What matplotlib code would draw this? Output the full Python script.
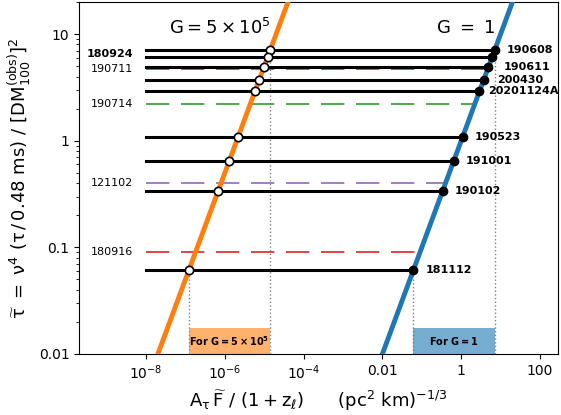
import numpy as np
import matplotlib.pyplot as plt
from matplotlib.ticker import FixedLocator, FixedFormatter, NullLocator

plt.rcParams['mathtext.default'] = 'regular'

# FRBs with measured scattering (black lines)
frb_names = ['190608', '180924', '190611', '200430', '20201124A',
             '190523', '191001', '190102', '181112']
frb_tau = [7.1, 6.1, 4.9, 3.7, 2.9, 1.09, 0.65, 0.34, 0.061]
label_side = ['right', 'left', 'right', 'right', 'right',
              'right', 'right', 'right', 'right']

# FRBs with upper limits / other (dashed lines)
dash_names = ['190711', '190714', '121102', '180916']
dash_tau = [4.7, 2.2, 0.40, 0.09]
dash_colors = ['tab:brown', 'tab:green', 'tab:purple', 'tab:red']

G_values = [5e5, 1.0]
G_colors = ['tab:orange', 'tab:blue']

xticks = [1e-8, 1e-6, 1e-4, 1e-2, 1, 100]
xticklabels = [r'$10^{-8}$', r'$10^{-6}$', r'$10^{-4}$', '0.01', '1', '100']
yticks = [0.01, 0.1, 1, 10]
yticklabels = ['0.01', '0.1', '1', '10']

xlim = (2e-10, 2.9e2)
ylim = (0.01, 20)
x_start = 1e-8

fig = plt.figure(figsize=(5.61, 4.15), dpi=100)
ax = fig.add_axes([0.141, 0.147, 0.854, 0.848])
ax.set_xscale('log')
ax.set_yscale('log')

# model lines  tau = G * x
xx = np.array(xlim)
for G, c in zip(G_values, G_colors):
    ax.plot(xx, G * xx, color=c, lw=3.5, zorder=3, solid_capstyle='butt')

# dashed lines
for name, t, c in zip(dash_names, dash_tau, dash_colors):
    ax.plot([x_start, t], [t, t], color=c, lw=1.2, ls=(0, (14, 7)), zorder=2)
    ax.annotate(name, (x_start, t), xytext=(-9, 0), textcoords='offset points',
                ha='right', va='center', fontsize=8)

# solid lines and dots
right_dx = {'190611': 11, '200430': 10, '20201124A': 6.5}
for name, t, side in zip(frb_names, frb_tau, label_side):
    ax.plot([x_start, t], [t, t], color='black', lw=2.2, zorder=4)
    ax.plot(t, t, 'o', color='black', ms=6, zorder=6)
    ax.plot(t / G_values[0], t, 'o', mfc='white', mec='black', mew=1.2,
            ms=6, zorder=6)
    if side == 'right':
        ax.annotate(name, (t, t), xytext=(right_dx.get(name, 8.6), 0),
                    textcoords='offset points', ha='left', va='center',
                    fontsize=8, fontweight='bold')
    else:
        ax.annotate(name, (x_start, t), xytext=(-9, 2),
                    textcoords='offset points', ha='right', va='center',
                    fontsize=8, fontweight='bold')

# ranges of each G
tmin, tmax = min(frb_tau), max(frb_tau)
box_texts = [r'For $\mathbf{G = 5 \times 10^5}$', r'For $\mathbf{G = 1}$']
for G, c, txt in zip(G_values, G_colors, box_texts):
    lo, hi = tmin / G, tmax / G
    ax.plot([lo, lo], [ylim[0], tmin], color='gray', ls=':', lw=1, zorder=1)
    ax.plot([hi, hi], [ylim[0], tmax], color='gray', ls=':', lw=1, zorder=1)
    ax.fill_between([lo, hi], ylim[0], 0.0175, color=c, alpha=0.6,
                    lw=0, zorder=1)
    ax.text(np.sqrt(lo * hi), 0.0133, txt, ha='center', va='center',
            fontsize=7, fontweight='bold')

ax.text(7.4e-7, 11.4, r'$G = 5 \times 10^5$', ha='center', va='center',
        fontsize=13)
ax.text(1.3, 11.4, r'$G\ =\ 1$', ha='center', va='center', fontsize=13)

ax.set_xlim(*xlim)
ax.set_ylim(*ylim)
ax.xaxis.set_major_locator(FixedLocator(xticks))
ax.xaxis.set_major_formatter(FixedFormatter(xticklabels))
ax.xaxis.set_minor_locator(NullLocator())
ax.yaxis.set_major_locator(FixedLocator(yticks))
ax.yaxis.set_major_formatter(FixedFormatter(yticklabels))
ax.tick_params(labelsize=10)

ax.set_xlabel(r'$A_\tau\,\widetilde{F}\ /\ (1 + z_\ell)$      $(pc^2\ km)^{-1/3}$',
              fontsize=13)
ax.set_ylabel(r'$\widetilde{\tau}\ =\ \nu^4\ (\tau\,/\,0.48\ ms)\ /\ [DM_{100}^{(obs)}]^2$',
              fontsize=13)

fig.savefig('out.png', dpi=100)
